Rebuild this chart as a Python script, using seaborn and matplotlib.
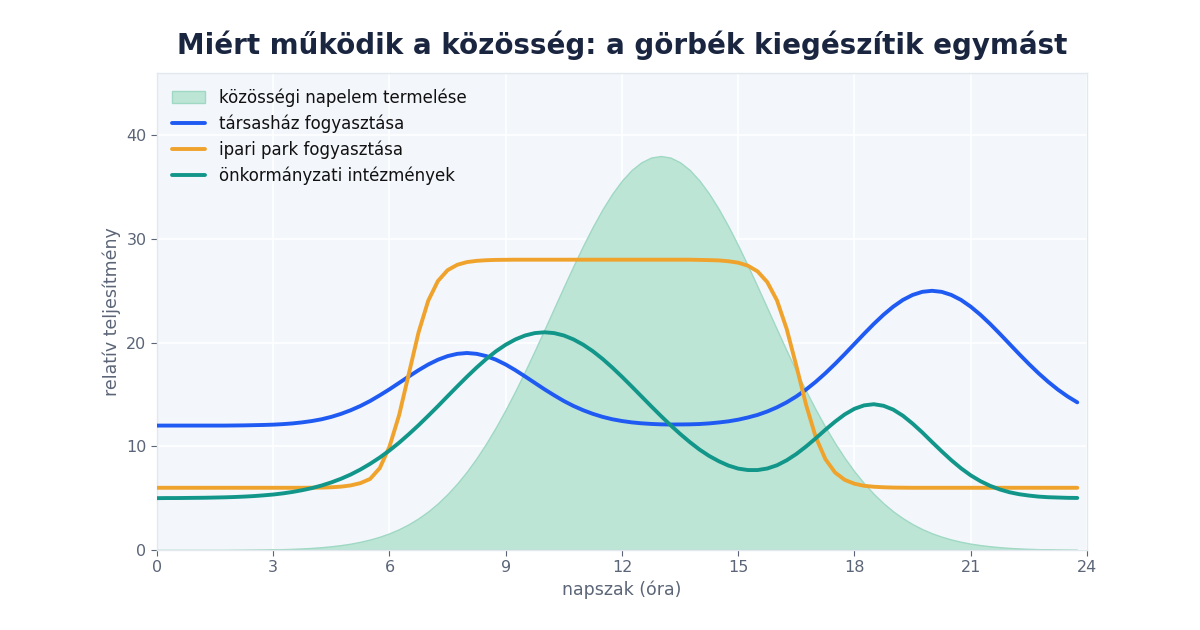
import matplotlib
matplotlib.use("Agg")
import matplotlib.pyplot as plt
import seaborn as sns
import numpy as np
import pandas as pd

# hours in quarter-hour steps, 0 .. 23.75
hours = [i / 4 for i in range(96)]

solar = [
    0.0, 0.0, 0.0, 0.0, 0.0, 0.0, 0.0, 0.0,
    0.01, 0.02, 0.03, 0.04, 0.06, 0.08, 0.11, 0.15,
    0.20, 0.27, 0.36, 0.47, 0.61, 0.79, 1.01, 1.28,
    1.61, 2.01, 2.49, 3.06, 3.72, 4.50, 5.40, 6.42,
    7.57, 8.86, 10.29, 11.85, 13.54, 15.34, 17.24, 19.22,
    21.26, 23.33, 25.39, 27.41, 29.36, 31.19, 32.87, 34.36,
    35.63, 36.65, 37.39, 37.85, 38.0, 37.85, 37.39, 36.65,
    35.63, 34.36, 32.87, 31.19, 29.36, 27.41, 25.39, 23.33,
    21.26, 19.22, 17.24, 15.34, 13.54, 11.85, 10.29, 8.86,
    7.57, 6.42, 5.40, 4.50, 3.72, 3.06, 2.49, 2.01,
    1.61, 1.28, 1.01, 0.79, 0.61, 0.47, 0.36, 0.27,
    0.20, 0.15, 0.11, 0.08, 0.06, 0.04, 0.03, 0.02,
]

tarsashaz = [
    12.0, 12.0, 12.0, 12.0, 12.0, 12.0, 12.0, 12.0,
    12.01, 12.02, 12.04, 12.06, 12.09, 12.14, 12.21, 12.31,
    12.44, 12.61, 12.84, 13.13, 13.48, 13.89, 14.37, 14.92,
    15.50, 16.12, 16.74, 17.34, 17.89, 18.35, 18.70, 18.92,
    19.0, 18.92, 18.70, 18.35, 17.89, 17.34, 16.74, 16.12,
    15.50, 14.92, 14.37, 13.89, 13.48, 13.13, 12.84, 12.61,
    12.44, 12.31, 12.22, 12.16, 12.12, 12.10, 12.11, 12.12,
    12.15, 12.21, 12.30, 12.41, 12.57, 12.78, 13.03, 13.36,
    13.76, 14.24, 14.81, 15.47, 16.22, 17.05, 17.95, 18.90,
    19.88, 20.86, 21.81, 22.69, 23.47, 24.12, 24.60, 24.90,
    25.0, 24.90, 24.60, 24.12, 23.47, 22.69, 21.81, 20.86,
    19.88, 18.90, 17.95, 17.05, 16.22, 15.47, 14.81, 14.24,
]

ipari_park = [
    6.0, 6.0, 6.0, 6.0, 6.0, 6.0, 6.0, 6.0,
    6.0, 6.0, 6.0, 6.0, 6.0, 6.0, 6.0, 6.0,
    6.01, 6.02, 6.05, 6.11, 6.23, 6.45, 6.85, 7.9,
    9.96, 13.02, 17.0, 20.98, 24.04, 25.94, 26.99, 27.51,
    27.77, 27.89, 27.95, 27.98, 27.99, 28.0, 28.0, 28.0,
    28.0, 28.0, 28.0, 28.0, 28.0, 28.0, 28.0, 28.0,
    28.0, 28.0, 28.0, 28.0, 28.0, 28.0, 28.0, 28.0,
    27.98, 27.96, 27.93, 27.85, 27.71, 27.42, 26.87, 25.84,
    24.08, 21.33, 17.76, 14.02, 10.90, 8.76, 7.47, 6.76,
    6.39, 6.19, 6.10, 6.05, 6.02, 6.01, 6.0, 6.0,
    6.0, 6.0, 6.0, 6.0, 6.0, 6.0, 6.0, 6.0,
    6.0, 6.0, 6.0, 6.0, 6.0, 6.0, 6.0, 6.0,
]

onkormanyzati = [
    5.00, 5.01, 5.01, 5.02, 5.03, 5.04, 5.06, 5.08,
    5.11, 5.15, 5.20, 5.27, 5.35, 5.46, 5.60, 5.77,
    5.97, 6.22, 6.52, 6.87, 7.28, 7.76, 8.31, 8.92,
    9.60, 10.35, 11.17, 12.03, 12.94, 13.87, 14.83, 15.78,
    16.71, 17.60, 18.43, 19.17, 19.80, 20.31, 20.69, 20.92,
    21.0, 20.92, 20.69, 20.31, 19.80, 19.17, 18.43, 17.60,
    16.71, 15.78, 14.83, 13.88, 12.95, 12.05, 11.20, 10.41,
    9.69, 9.07, 8.56, 8.14, 7.85, 7.71, 7.71, 7.86,
    8.17, 8.65, 9.26, 9.98, 10.77, 11.60, 12.38, 13.08,
    13.62, 13.95, 14.06, 13.91, 13.54, 12.95, 12.19, 11.34,
    10.42, 9.52, 8.66, 7.88, 7.20, 6.64, 6.19, 5.84,
    5.57, 5.38, 5.25, 5.15, 5.09, 5.06, 5.03, 5.02,
]

x_ticks = [0, 3, 6, 9, 12, 15, 18, 21, 24]
y_ticks = [0, 10, 20, 30, 40]

sns.set_theme(style="darkgrid", rc={
    "axes.facecolor": "#f3f6fb",
    "grid.color": "white",
    "grid.linewidth": 1.2,
    "axes.edgecolor": "#e3e7ee",
})
plt.rcParams["font.family"] = ["DejaVu Sans"]

df = pd.DataFrame({
    "ora": hours * 3,
    "ertek": tarsashaz + ipari_park + onkormanyzati,
    "sorozat": (["társasház fogyasztása"] * len(hours)
                + ["ipari park fogyasztása"] * len(hours)
                + ["önkormányzati intézmények"] * len(hours)),
})

fig = plt.figure(figsize=(12, 6.3), dpi=100)
ax = fig.add_axes([0.1308, 0.127, 0.775, 0.757])

ax.fill_between(hours, solar, 0, color="#bde5d6", edgecolor="#9fd8c3",
                linewidth=1, label="közösségi napelem termelése", zorder=1)

sns.lineplot(data=df, x="ora", y="ertek", hue="sorozat", ax=ax,
             palette=["#1f5af2", "#f0a32c", "#13968a"], linewidth=2.8,
             zorder=3)

ax.set_xlim(0, 24)
ax.set_ylim(0, 46)
ax.set_xticks(x_ticks)
ax.set_yticks(y_ticks)
ax.tick_params(axis="both", colors="#5b6577", labelsize=11.5, length=4,
               width=0.8, direction="out", bottom=True, left=True)
ax.tick_params(axis="both", labelcolor="#5b6577")
for s in ax.spines.values():
    s.set_color("#e3e7ee")
    s.set_linewidth(1)

ax.set_xlabel("napszak (óra)", fontsize=12.5, color="#5b6577")
ax.set_ylabel("relatív teljesítmény", fontsize=12.5, color="#5b6577")
ax.set_title("Miért működik a közösség: a görbék kiegészítik egymást",
             fontsize=20, fontweight="bold", color="#1a2540", pad=14)

leg = ax.legend(loc="upper left", frameon=False, fontsize=12,
                handlelength=2.0, borderaxespad=0.5, labelspacing=0.45,
                handletextpad=0.8)
for t in leg.get_texts():
    t.set_color("#111111")

fig.savefig("out.png", dpi=100)
